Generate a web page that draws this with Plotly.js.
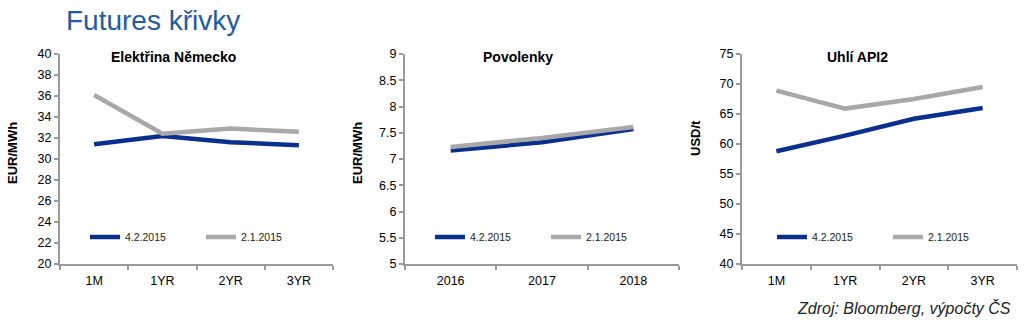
<!DOCTYPE html>
<html>
<head>
<meta charset="utf-8">
<script src="https://cdn.plot.ly/plotly-3.0.1.min.js"></script>
<style>
html,body{margin:0;padding:0;background:#fff;}
#chart{width:1024px;height:324px;}
</style>
</head>
<body>
<div id="chart"></div>
<script>
// ---- data ----
const termCats = ['1M', '1YR', '2YR', '3YR'];
const yearCats = ['2016', '2017', '2018'];
const seriesNames = ['4.2.2015', '2.1.2015'];

const elekNew = [31.4, 32.2, 31.6, 31.3];
const elekOld = [36.1, 32.4, 32.9, 32.6];

const povNew = [7.16, 7.32, 7.57];
const povOld = [7.23, 7.40, 7.61];

const uhliNew = [58.8, 61.4, 64.2, 66.0];
const uhliOld = [68.9, 65.9, 67.5, 69.5];

const subTitles = ['Elektřina Německo', 'Povolenky', 'Uhlí API2'];
const yTitles = ['EUR/MWh', 'EUR/MWh', 'USD/t'];
const mainTitle = 'Futures křivky';
const sourceNote = 'Zdroj: Bloomberg, výpočty ČS';

// ---- style ----
const BLUE = '#0b2f8c';
const GRAY = '#a8a8a8';
const AXIS = '#9a9a9a';
const SANS = '"Liberation Sans", Arial, sans-serif';
const LW = 4.5;

function tr(x, y, name, color, xa, ya, leg) {
  return {
    x: x, y: y, name: name, type: 'scatter', mode: 'lines',
    line: {color: color, width: LW},
    xaxis: xa, yaxis: ya, legend: leg, hoverinfo: 'skip'
  };
}

const data = [
  tr(termCats, elekNew, seriesNames[0], BLUE, 'x', 'y', 'legend'),
  tr(termCats, elekOld, seriesNames[1], GRAY, 'x', 'y', 'legend'),
  tr(yearCats, povNew, seriesNames[0], BLUE, 'x2', 'y2', 'legend2'),
  tr(yearCats, povOld, seriesNames[1], GRAY, 'x2', 'y2', 'legend2'),
  tr(termCats, uhliNew, seriesNames[0], BLUE, 'x3', 'y3', 'legend3'),
  tr(termCats, uhliOld, seriesNames[1], GRAY, 'x3', 'y3', 'legend3')
];

const W = 1024, H = 324;
const px = v => v / W;
const py = v => 1 - v / H;

const xDomains = [[px(60), px(333)], [px(405), px(679)], [px(742), px(1017)]];
const yDomain = [py(264), py(54)];

function xAxis(domain, anchor, n) {
  return {
    domain: domain, anchor: anchor, type: 'category',
    range: [-0.5, n - 0.5], tickson: 'boundaries',
    showline: true, linecolor: AXIS, linewidth: 2,
    ticks: 'outside', ticklen: 4, tickwidth: 2, tickcolor: AXIS,
    showgrid: false, zeroline: false, fixedrange: true,
    tickfont: {family: SANS, size: 12.5, color: '#000'},
    ticklabelstandoff: 4
  };
}
function yAxis(anchor, range, dtick) {
  return {
    domain: yDomain, anchor: anchor, range: range, dtick: dtick,
    showline: true, linecolor: AXIS, linewidth: 2,
    ticks: 'outside', ticklen: 4, tickwidth: 2, tickcolor: AXIS,
    showgrid: false, zeroline: false, fixedrange: true,
    tickfont: {family: SANS, size: 12.5, color: '#000'},
    ticklabelstandoff: 0
  };
}
function legend(x) {
  return {
    x: x, xanchor: 'left', y: py(237), yanchor: 'middle',
    orientation: 'h', bgcolor: 'rgba(0,0,0,0)',
    font: {family: SANS, size: 10.5, color: '#222'},
    entrywidth: 71, entrywidthmode: 'pixels',
    tracegroupgap: 0, itemclick: false, itemdoubleclick: false
  };
}

function ann(text, x, y, size, extra) {
  return Object.assign({
    text: text, x: px(x), y: py(y), xref: 'paper', yref: 'paper',
    xanchor: 'center', yanchor: 'middle', showarrow: false,
    font: {family: SANS, size: size, color: '#000', weight: 'bold'}
  }, extra || {});
}

const annotations = [
  ann(subTitles[0], 173, 57, 14),
  ann(subTitles[1], 518, 57, 14),
  ann(subTitles[2], 857, 57, 14),
  ann(yTitles[0], 12, 153, 13, {textangle: -90}),
  ann(yTitles[1], 357, 153, 13, {textangle: -90}),
  ann(yTitles[2], 695, 138, 13, {textangle: -90}),
  ann(mainTitle, 64, 21, 28, {xanchor: 'left', font: {family: SANS, size: 28, color: '#1f5ca3'}}),
  ann('<i>' + sourceNote + '</i>', 1013, 308, 16, {xanchor: 'right', font: {family: SANS, size: 16, color: '#222'}})
];

const layout = {
  width: W, height: H,
  margin: {l: 0, r: 0, t: 0, b: 0},
  paper_bgcolor: '#fff', plot_bgcolor: '#fff',
  showlegend: true,
  xaxis: xAxis(xDomains[0], 'y', termCats.length),
  yaxis: yAxis('x', [20, 40], 2),
  xaxis2: xAxis(xDomains[1], 'y2', yearCats.length),
  yaxis2: yAxis('x2', [5, 9], 0.5),
  xaxis3: xAxis(xDomains[2], 'y3', termCats.length),
  yaxis3: yAxis('x3', [40, 75], 5),
  legend: legend(px(85)),
  legend2: legend(px(430)),
  legend3: legend(px(772)),
  annotations: annotations
};

Plotly.newPlot('chart', data, layout, {displayModeBar: false, staticPlot: true});
</script>
</body>
</html>
